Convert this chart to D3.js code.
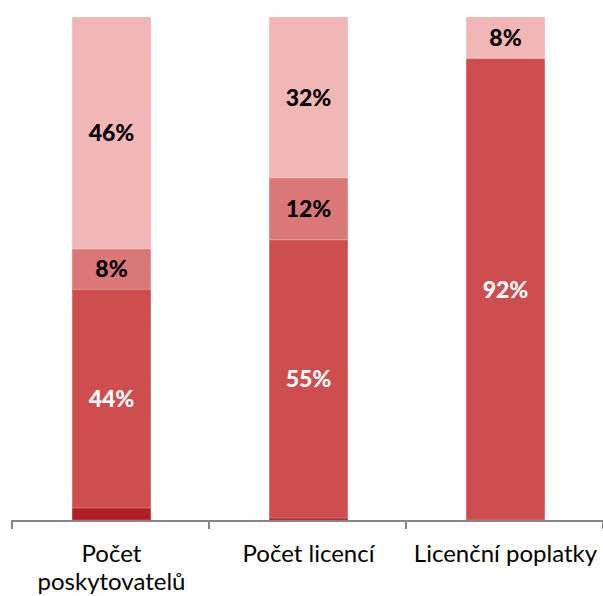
<!DOCTYPE html>
<html>
<head>
<meta charset="utf-8">
<script src="https://cdn.jsdelivr.net/npm/d3@7"></script>
<style>
	body { margin: 0; background: #fff; }
	svg { display: block; }
</style>
</head>
<body>
<svg id="chart" width="603" height="596"></svg>
<script>
	// categories and segment shares (percent), bottom to top
	var categories = ["Počet poskytovatelů", "Počet licencí", "Licenční poplatky"];
	var seriesNames = ["s1", "s2", "s3", "s4"];
	var s1 = [2.4, 0.4, 0];
	var s2 = [43.5, 55.3, 91.7];
	var s3 = [8.0, 12.3, 0.2];
	var s4 = [46.1, 32.0, 8.1];
	var colors = ["#b11f24", "#ce4e4f", "#da7777", "#f1b6b6"];
	var labelColors = ["#fff", "#fff", "#000", "#000"];

	var width = 603, height = 596;
	var margin = { top: 17, right: 1, bottom: 76, left: 11 };

	var rows = categories.map(function(c, i) {
		return { cat: c, s1: s1[i], s2: s2[i], s3: s3[i], s4: s4[i] };
	});
	var stacked = d3.stack().keys(seriesNames)(rows);

	var svg = d3.select("#chart");

	var x = d3.scaleBand()
		.domain(categories)
		.range([margin.left + 2, width - margin.right + 2])
		.paddingInner(0.6)
		.paddingOuter(0.3);

	var y = d3.scaleLinear()
		.domain([0, 100])
		.range([height - margin.bottom, margin.top]);

	var layers = svg.selectAll("g.layer")
		.data(stacked)
		.enter().append("g")
			.attr("class", "layer")
			.attr("fill", function(d, i) { return colors[i]; });

	layers.selectAll("rect")
		.data(function(d) { return d; })
		.enter().append("rect")
			.attr("x", function(d) { return x(d.data.cat); })
			.attr("width", x.bandwidth())
			.attr("y", function(d) { return y(d[1]); })
			.attr("height", function(d) { return y(d[0]) - y(d[1]); })
			.attr("stroke", "rgba(255,255,255,0.25)")
			.attr("stroke-width", 0.7);

	// percent labels on the segments big enough to hold them
	layers.each(function(layer, li) {
		d3.select(this).selectAll("text")
			.data(layer.filter(function(d) { return d[1] - d[0] >= 5; }))
			.enter().append("text")
				.attr("x", function(d) { return x(d.data.cat) + x.bandwidth() / 2; })
				.attr("y", function(d) { return (y(d[0]) + y(d[1])) / 2; })
				.attr("dy", "0.36em")
				.attr("text-anchor", "middle")
				.style("font-family", "Lato, 'Open Sans', sans-serif")
				.style("font-weight", "900")
				.style("font-size", "23px")
				.style("fill", labelColors[li])
				.text(function(d) { return Math.round(d[1] - d[0]) + "%"; });
	});

	// category axis
	var axisY = height - margin.bottom;
	var axis = svg.append("g");
	axis.append("line")
		.attr("x1", margin.left).attr("x2", width)
		.attr("y1", axisY + 1).attr("y2", axisY + 1)
		.attr("stroke", "#868686").attr("stroke-width", 2);

	var tickX = d3.range(categories.length + 1).map(function(i) {
		return margin.left + 1 + i * (width - margin.left - margin.right) / categories.length;
	});
	axis.selectAll("line.tick")
		.data(tickX)
		.enter().append("line")
			.attr("class", "tick")
			.attr("x1", function(d) { return d; }).attr("x2", function(d) { return d; })
			.attr("y1", axisY).attr("y2", axisY + 9)
			.attr("stroke", "#868686").attr("stroke-width", 2);

	var catLines = { "Počet poskytovatelů": ["Počet", "poskytovatelů"] };
	axis.selectAll("text.cat")
		.data(categories)
		.enter().append("text")
			.attr("class", "cat")
			.attr("x", function(d) { return x(d) + x.bandwidth() / 2; })
			.attr("y", axisY + 42)
			.attr("text-anchor", "middle")
			.style("font-family", "Lato, 'Open Sans', sans-serif")
			.style("font-size", "24px")
			.style("fill", "#000")
			.each(function(d) {
				var lines = catLines[d] || [d];
				var t = d3.select(this);
				lines.forEach(function(l, i) {
					t.append("tspan")
						.attr("x", x(d) + x.bandwidth() / 2)
						.attr("dy", i ? 28 : 0)
						.text(l);
				});
			});
</script>
</body>
</html>
